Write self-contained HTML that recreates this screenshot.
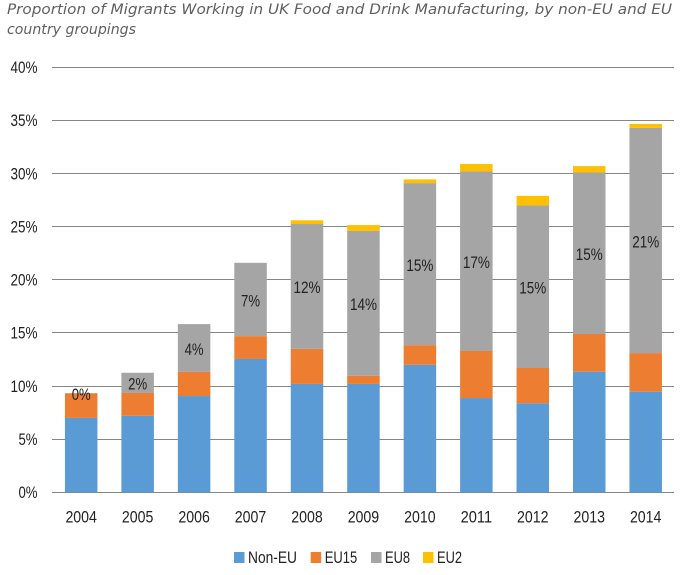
<!DOCTYPE html>
<html lang="en">
<head>
<meta charset="utf-8">
<title>Proportion of Migrants Working in UK Food and Drink Manufacturing</title>
<style>
  html, body { margin: 0; padding: 0; background: #fff; }
  svg { display: block; }
  text { font-family: "Liberation Sans", "DejaVu Sans", sans-serif; fill: #222; }
  .title { font-family: "DejaVu Sans", "Liberation Sans", sans-serif; font-style: italic; font-size: 14px; fill: #5f5f5f; }
</style>
</head>
<body>
<svg id="chart" xmlns="http://www.w3.org/2000/svg" width="680" height="575" viewBox="0 0 680 575">
  <rect x="0" y="0" width="680" height="575" fill="#fff"/>
  <g>
    <text class="title" x="7" y="14" textLength="665" lengthAdjust="spacingAndGlyphs">Proportion of Migrants Working in UK Food and Drink Manufacturing, by non-EU and EU</text>
    <text class="title" x="7" y="34" textLength="129" lengthAdjust="spacingAndGlyphs">country groupings</text>
  </g>
  <g id="grid"></g>
  <g id="yticks"></g>
  <g id="bars"></g>
  <g id="labels"></g>
  <g id="xticks"></g>
  <g id="legend"></g>
</svg>
<script>
const years = ["2004","2005","2006","2007","2008","2009","2010","2011","2012","2013","2014"];
const nonEU = [7.0, 7.2, 9.06, 12.55, 10.2, 10.2, 12.0, 8.87, 8.38, 11.35, 9.47];
const eu15 = [2.3, 2.15, 2.27, 2.15, 3.3, 0.77, 1.85, 4.43, 3.32, 3.55, 3.63];
const eu8 = [0.03, 1.9, 4.5, 6.9, 11.75, 13.63, 15.25, 16.9, 15.3, 15.2, 21.2];
const eu2 = [0, 0, 0, 0, 0.35, 0.55, 0.35, 0.7, 0.9, 0.6, 0.37];
const eu8Labels = ["0%","2%","4%","7%","12%","14%","15%","17%","15%","15%","21%"];
const yTicks = [0, 5, 10, 15, 20, 25, 30, 35, 40];
const seriesNames = ["Non-EU","EU15","EU8","EU2"];
const seriesColors = ["#5b9bd5","#ed7d31","#a5a5a5","#ffc000"];

const NS = "http://www.w3.org/2000/svg";
const plot = { left: 52, right: 674, y0: 492.3, y40: 67.3, firstCenter: 81.2, step: 56.45, barWidth: 32.5 };
const yScale = v => plot.y0 - (v / 40) * (plot.y0 - plot.y40);
const xScale = i => plot.firstCenter + i * plot.step;

function make(tag, attrs, parent, content) {
  const el = document.createElementNS(NS, tag);
  Object.keys(attrs).forEach(k => el.setAttribute(k, attrs[k]));
  if (content !== undefined) el.textContent = content;
  parent.appendChild(el);
  return el;
}

const gridG = document.getElementById("grid");
const yG = document.getElementById("yticks");
yTicks.forEach(t => {
  const y = Math.floor(yScale(t)) + 0.5;
  const line = make("line", { x1: plot.left, x2: plot.right, y1: y, y2: y, stroke: "#868686", "stroke-width": 1 }, gridG);
  
  
  const label = make("text", { x: 37.5, y: yScale(t) + 5.8, "text-anchor": "end", "font-size": 16.5, textLength: t === 0 || t === 5 ? 19 : 27, lengthAdjust: "spacingAndGlyphs" }, yG, t + "%");
  
  
});

const barsG = document.getElementById("bars");
const labelsG = document.getElementById("labels");
const xG = document.getElementById("xticks");
const allSeries = [nonEU, eu15, eu8, eu2];
years.forEach((yr, i) => {
  let base = 0;
  allSeries.forEach((vals, s) => {
    const v = vals[i];
    if (v > 0) {
      const top = yScale(base + v);
      const seg = make("rect", { x: xScale(i) - plot.barWidth / 2, y: top, width: plot.barWidth, height: yScale(base) - top, fill: seriesColors[s] }, barsG);
      
      
    }
    base += v;
  });
  const mid = nonEU[i] + eu15[i] + eu8[i] / 2;
  const dl = make("text", { x: xScale(i), y: yScale(mid) + 6.8, "text-anchor": "middle", "font-size": 16.5, textLength: eu8Labels[i].length === 2 ? 19 : 27, lengthAdjust: "spacingAndGlyphs" }, labelsG, eu8Labels[i]);
  
  
  const xl = make("text", { x: xScale(i), y: 522.7, "text-anchor": "middle", "font-size": 16.5, textLength: 31.5, lengthAdjust: "spacingAndGlyphs" }, xG, yr);
  
  
});

const legendG = document.getElementById("legend");
const legendSwatchX = [234, 310.7, 371, 423];
const legendTextW = [49, 32.5, 25, 25];
seriesNames.forEach((name, s) => {
  const sw = make("rect", { x: legendSwatchX[s], y: 552, width: 10.5, height: 11, fill: seriesColors[s] }, legendG);
  
  
  const tx = make("text", { x: legendSwatchX[s] + 14, y: 562.8, "font-size": 16.5, textLength: legendTextW[s], lengthAdjust: "spacingAndGlyphs" }, legendG, name);
  
  
});
</script>
</body>
</html>
